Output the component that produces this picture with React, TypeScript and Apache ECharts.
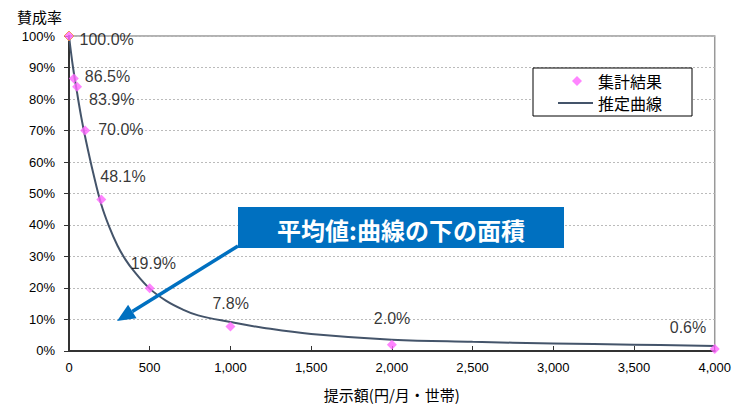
import React, { useEffect, useRef } from "react";
import * as echarts from "echarts";

// Survey results (提示額 in 円/月・世帯, 賛成率 in %)
const bidAmounts = [0, 30, 50, 100, 200, 500, 1000, 2000, 4000];
const approvalRates = [100.0, 86.5, 83.9, 70.0, 48.1, 19.9, 7.8, 2.0, 0.6];

// Estimated curve
const curveX = [0, 25, 50, 75, 100, 150, 200, 250, 300, 350, 400, 500, 600, 700, 800, 1000, 1200, 1500, 2000, 2500, 3000, 3500, 4000];
const curveY = [100, 90, 82, 74.5, 68, 56.5, 46.5, 39.3, 33.5, 29, 25.5, 19.8, 16, 13.3, 11.3, 9.2, 7.4, 5.4, 3.6, 2.9, 2.4, 2.0, 1.6];

const xTicks = { min: 0, max: 4000, interval: 500 };
const yTicks = { min: 0, max: 100, interval: 10 };

const seriesNames = ["集計結果", "推定曲線"];
const yTitle = "賛成率";
const xTitle = "提示額(円/月・世帯)";
const calloutText = "平均値:曲線の下の面積";

// label nudges (px) relative to each point: [left edge dx, middle dy]
const labelNudges = [
  [11, 4], [11, -2], [12, 13], [13, -1], [-1, -23], [-19, -25], [-18, -23], [-18, -26], [-45, -22],
];

const SYM = 10;

export default function App() {
  const ref = useRef<HTMLDivElement>(null);
  useEffect(() => {
    document.body.style.margin = "0";
    const chart = echarts.init(ref.current!, null, { renderer: "svg" });

    const scatterData = bidAmounts.map((x, i) => ({
      value: [x, approvalRates[i]],
      itemStyle: i === 0 ? { color: "#FF66FF", borderColor: "#F08A3C", borderWidth: 1 } : { color: "#FF66FF" },
      label: {
        show: true,
        position: [labelNudges[i][0] + SYM / 2, labelNudges[i][1] + SYM / 2],
        align: "left",
        verticalAlign: "middle",
        formatter: approvalRates[i].toFixed(1) + "%",
        fontSize: 16,
        fontFamily: "Liberation Sans",
        color: "#000",
      },
    }));

    // arrow geometry (annotation)
    const start = [238, 246];
    const tip = [117, 321];
    const ddx = tip[0] - start[0];
    const ddy = tip[1] - start[1];
    const len = Math.sqrt(ddx * ddx + ddy * ddy);
    const ux = ddx / len, uy = ddy / len;
    const headLen = 18, headHalf = 8;
    const bx = tip[0] - ux * headLen, by = tip[1] - uy * headLen;
    const nx = -uy, ny = ux;

    const legendText = { fontSize: 16, color: "#000", fontFamily: "Noto Sans CJK JP" };

    const option: any = {
      animation: false,
      backgroundColor: "#fff",
      title: {
        text: yTitle,
        left: 12,
        top: 4,
        textStyle: { fontSize: 15, fontWeight: "normal", color: "#000", fontFamily: "Noto Sans CJK JP" },
      },
      legend: [
        {
          orient: "vertical",
          left: 572,
          top: 73,
          padding: 0,
          itemWidth: 10,
          itemHeight: 10,
          data: [{ name: seriesNames[0], icon: "diamond" }],
          textStyle: { ...legendText, padding: [0, 0, 0, 11] },
          selectedMode: false,
          z: 6,
        },
        {
          orient: "vertical",
          left: 558,
          top: 95,
          padding: 0,
          itemWidth: 35,
          itemHeight: 2,
          data: [{ name: seriesNames[1], icon: "rect" }],
          textStyle: legendText,
          selectedMode: false,
          z: 6,
        },
      ],
      grid: {
        left: 69,
        right: 17,
        top: 36,
        bottom: 56,
        show: true,
        borderColor: "#999",
        borderWidth: 1.5,
        backgroundColor: "transparent",
      },
      xAxis: {
        type: "value",
        min: xTicks.min,
        max: xTicks.max,
        interval: xTicks.interval,
        name: xTitle,
        nameLocation: "middle",
        nameGap: 36,
        nameTextStyle: { fontSize: 15, color: "#000", fontFamily: "Noto Sans CJK JP" },
        axisLine: { show: true, lineStyle: { color: "#333", width: 2 } },
        axisTick: { show: true, inside: true, length: 5, lineStyle: { color: "#333", width: 1 } },
        axisLabel: {
          margin: 10,
          fontSize: 13,
          color: "#000",
          fontFamily: "Liberation Sans",
          showMinLabel: true,
          showMaxLabel: true,
          formatter: (v: number) => v.toLocaleString("en-US"),
        },
        splitLine: { show: false },
      },
      yAxis: {
        type: "value",
        min: yTicks.min,
        max: yTicks.max,
        interval: yTicks.interval,
        axisLine: { show: true, lineStyle: { color: "#333", width: 2 } },
        axisTick: { show: true, inside: false, length: 5, lineStyle: { color: "#333", width: 1 } },
        axisLabel: {
          margin: 14,
          fontSize: 13,
          color: "#000",
          fontFamily: "Liberation Sans",
          formatter: "{value}%",
        },
        splitLine: { show: true, lineStyle: { color: "#bbb", type: [2, 2], width: 1 } },
      },
      series: [
        {
          name: seriesNames[1],
          type: "line",
          data: curveX.map((x, i) => [x, curveY[i]]),
          smooth: 0.4,
          symbol: "none",
          showSymbol: false,
          lineStyle: { color: "#44546A", width: 2 },
          itemStyle: { color: "#44546A" },
          z: 2,
        },
        {
          name: seriesNames[0],
          type: "scatter",
          symbol: "diamond",
          symbolSize: SYM,
          data: scatterData,
          itemStyle: { color: "#FF66FF" },
          z: 3,
        },
      ],
      graphic: [
        {
          type: "rect",
          z: 5,
          shape: { x: 533, y: 68, width: 159, height: 48 },
          style: { fill: "#fff", stroke: "#000", lineWidth: 1 },
        },
        {
          type: "rect",
          z: 10,
          shape: { x: 238, y: 207, width: 326, height: 41 },
          style: { fill: "#0070C0" },
        },
        {
          type: "text",
          z: 11,
          x: 401,
          y: 229,
          style: {
            text: calloutText,
            fill: "#fff",
            font: "bold 24px 'Noto Sans CJK JP'",
            align: "center",
            verticalAlign: "middle",
          },
        },
        {
          type: "line",
          z: 10,
          shape: { x1: start[0], y1: start[1], x2: bx, y2: by },
          style: { stroke: "#0070C0", lineWidth: 3.5 },
        },
        {
          type: "polygon",
          z: 10,
          shape: {
            points: [
              [tip[0], tip[1]],
              [bx + nx * headHalf, by + ny * headHalf],
              [bx - nx * headHalf, by - ny * headHalf],
            ],
          },
          style: { fill: "#0070C0" },
        },
      ],
    };
    chart.setOption(option);
    return () => chart.dispose();
  }, []);
  return <div ref={ref} style={{ width: 734, height: 407 }} />;
}
